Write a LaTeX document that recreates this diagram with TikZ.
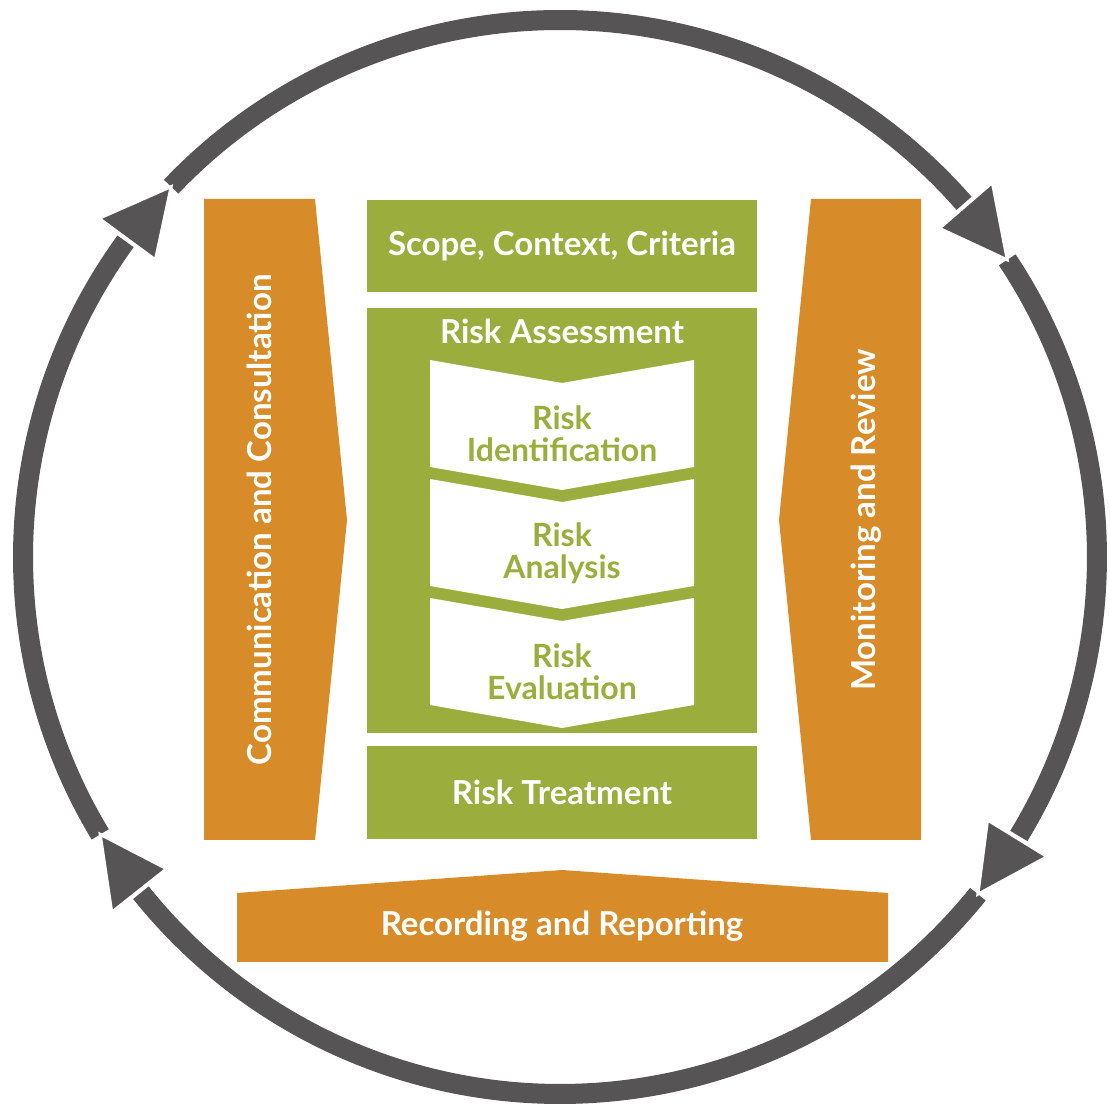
\documentclass[tikz,border=0pt]{standalone}
\usepackage{fontspec}
\setmainfont{Lato}
\usepackage{xcolor}
\usepackage{tikz}
\usetikzlibrary{calc}
\usetikzlibrary{positioning}

\definecolor{ringgray}{HTML}{565454}
\definecolor{riskgreen}{HTML}{9BAE3D}
\definecolor{riskorange}{HTML}{D78B29}

\tikzset{
  greenbox/.style={fill=riskgreen, minimum width=195pt, inner sep=0pt, text=white, font=\bfseries\fontsize{16.5}{19}\selectfont},
  orangetext/.style={text=white, font=\bfseries\fontsize{16.5}{19}\selectfont},
  chevrontext/.style={text=riskgreen, font=\bfseries\fontsize{16}{16}\selectfont},
  ring/.style={draw=ringgray, line width=10pt},
  ringhead/.style={fill=ringgray, draw=white, line width=1.5pt, line join=miter}
}

\begin{document}
\begin{tikzpicture}[x=0.5pt, y=0.5pt, every text node part/.style={align=center}]
\useasboundingbox (0,0) rectangle (1110,1108);

% the process boxes in the middle
\node (scope) [greenbox, minimum height=46pt] at (562,862) {Scope, Context, Criteria};
\node (risk assessment) [greenbox, minimum height=212.5pt] at (562,587.5) {};
\node (risk treatment) [greenbox, minimum height=46.5pt] at (562,315.5) {Risk Treatment};
\node (assessment title) [greenbox, fill=none] at ($(risk assessment.north)+(0,-24)$) {Risk Assessment};

\foreach \ytop/\word [count=\i] in {748/Identification, 629/Analysis, 510/Evaluation} {
  \fill[white] (430,\ytop) -- (562,\ytop-23) -- (694,\ytop) -- (694,\ytop-107) -- (562,\ytop-130) -- (430,\ytop-107) -- cycle;
  \node (chevron \i) [chevrontext] at (562,\ytop-74) {Risk\\\word};
}

% orange side arrows
\fill[riskorange] (204,909) -- (315,909) -- (347,588) -- (315,268) -- (204,268) -- cycle;
\node (communication) [orangetext, rotate=90] at (259,588) {Communication and Consultation};

\fill[riskorange] (921,909) -- (811,909) -- (779,588) -- (811,268) -- (921,268) -- cycle;
\node (monitoring) [orangetext, rotate=90] at (866,588) {Monitoring and Review};

\fill[riskorange] (237,146) -- (237,215) -- (562,238) -- (888,215) -- (888,146) -- cycle;
\node (recording) [orangetext] at (562,182) {Recording and Reporting};

% the cycle around everything
\begin{scope}[shift={(560,551)}]
\foreach \from/\to in {136.4/41.2, 33.6/-31.3, -38.9/-141.3, -148.9/-216.0}
  \draw[ring] (\from:537) arc[start angle=\from, end angle=\to, radius=537];
\foreach \tip [evaluate=\tip as \base using \tip+7.3] in {136.4, 33.6, -38.9, -148.9}
  \filldraw[ringhead] (\tip:537) -- (\base:572) -- (\base:502) -- cycle;
\end{scope}

\end{tikzpicture}
\end{document}
